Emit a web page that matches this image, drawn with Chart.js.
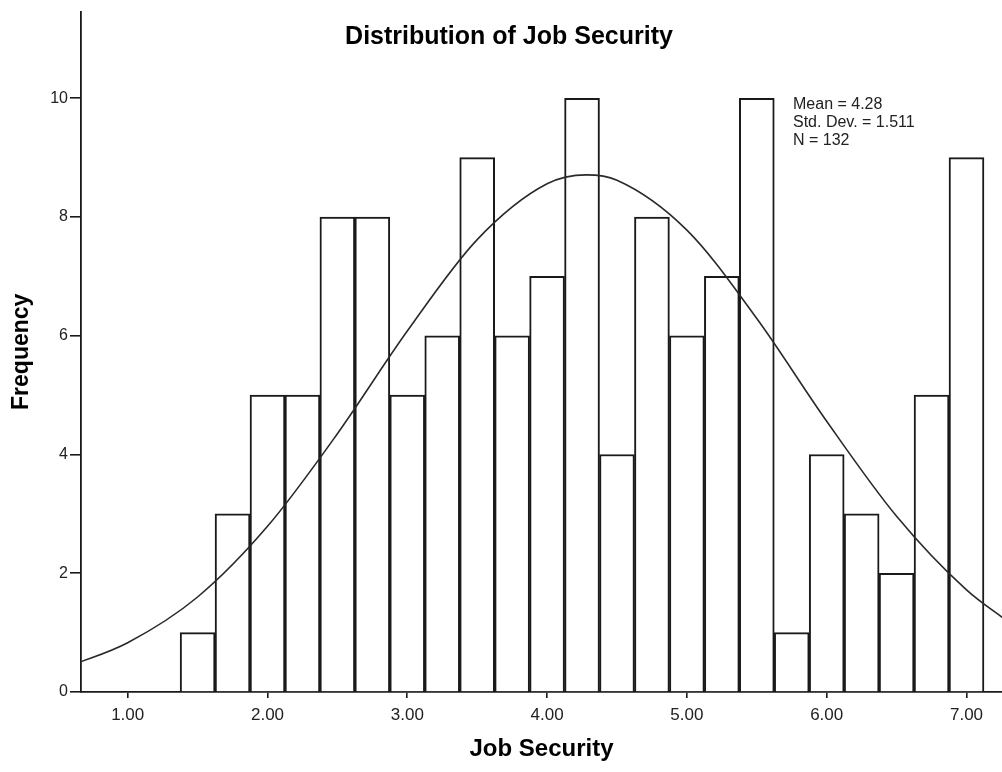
<!DOCTYPE html>
<html>
<head>
<meta charset="utf-8">
<title>Distribution of Job Security</title>
<script src="https://cdn.jsdelivr.net/npm/chart.js@4/dist/chart.umd.min.js"></script>
<style>
    html, body { margin: 0; padding: 0; background: #fff; }
    #wrap { position: relative; width: 1002px; height: 772px; }
</style>
</head>
<body>
<div id="wrap"><canvas id="histChart"></canvas></div>
<script>
// Histogram bins (centres, width 0.25) and counts
const binCentres = [1.50, 1.75, 2.00, 2.25, 2.50, 2.75, 3.00, 3.25, 3.50, 3.75, 4.00, 4.25,
                    4.50, 4.75, 5.00, 5.25, 5.50, 5.75, 6.00, 6.25, 6.50, 6.75, 7.00];
const binCounts = [1, 3, 5, 5, 8, 8, 5, 6, 9, 6, 7, 10, 4, 8, 6, 7, 10, 1, 4, 3, 2, 5, 9];

// Normal curve overlay
const curveX = [0.60, 1.00, 1.50, 2.00, 2.50, 3.00, 3.50, 4.00, 4.28, 4.50, 5.00, 5.50, 6.00, 6.50, 7.00, 7.30];
const curveY = [0.45, 0.83, 1.60, 2.79, 4.35, 6.08, 7.62, 8.56, 8.71, 8.62, 7.78, 6.29, 4.56, 2.96, 1.72, 1.18];

const xTickValues = [1, 2, 3, 4, 5, 6, 7];
const yTickValues = [0, 2, 4, 6, 8, 10];
const statLines = ['Mean = 4.28', 'Std. Dev. = 1.511', 'N = 132'];

const FONT = '"Liberation Sans", Arial, sans-serif';
const INK = '#1a1a1a';

// Title and the stats box are drawn on top of the chart area
const annotations = {
    id: 'annotations',
    afterDraw(chart) {
        const ctx = chart.ctx;
        ctx.save();
        ctx.fillStyle = '#000';
        ctx.font = 'bold 25px ' + FONT;
        ctx.textAlign = 'center';
        ctx.textBaseline = 'middle';
        ctx.fillText('Distribution of Job Security', 509, 37);

        ctx.font = '16px ' + FONT;
        ctx.fillStyle = '#222';
        ctx.textAlign = 'left';
        ctx.textBaseline = 'alphabetic';
        statLines.forEach((line, i) => ctx.fillText(line, 793, 109 + i * 18));
        ctx.restore();
    }
};

const chart = new Chart(document.getElementById('histChart'), {
    type: 'bar',
    data: {
        datasets: [{
            type: 'line',
            data: curveX.map((x, i) => ({ x: x, y: curveY[i] })),
            borderColor: '#2a2a2a',
            borderWidth: 1.6,
            pointRadius: 0,
            fill: false,
            cubicInterpolationMode: 'monotone',
            order: 0
        }, {
            type: 'bar',
            data: binCentres.map((x, i) => ({ x: x, y: binCounts[i] })),
            backgroundColor: '#ffffff',
            borderColor: INK,
            borderWidth: 2,
            borderSkipped: 'bottom',
            barPercentage: 1,
            categoryPercentage: 1,
            order: 1
        }]
    },
    options: {
        responsive: true,
        maintainAspectRatio: false,
        animation: false,
        layout: { padding: { top: 11, right: 0, left: 0, bottom: 0 } },
        plugins: {
            legend: { display: false },
            tooltip: { enabled: false }
        },
        scales: {
            x: {
                type: 'linear',
                offset: false,
                min: 0.666,
                max: 7.254,
                afterBuildTicks: scale => { scale.ticks = xTickValues.map(v => ({ value: v })); },
                afterFit: scale => { scale.height = 80; },
                grid: { display: true, offset: false, drawOnChartArea: false, drawTicks: true, tickLength: 6, color: INK, lineWidth: 1.6 },
                border: { display: true, color: INK, width: 1.8 },
                ticks: {
                    padding: 7,
                    color: '#222',
                    font: { family: FONT, size: 17 },
                    callback: v => Number(v).toFixed(2)
                },
                title: {
                    display: true,
                    text: 'Job Security',
                    color: '#000',
                    font: { family: FONT, size: 24, weight: 'bold' },
                    padding: { top: 0, bottom: 8 }
                }
            },
            y: {
                min: 0,
                max: 11.46,
                afterBuildTicks: scale => { scale.ticks = yTickValues.map(v => ({ value: v })); },
                afterFit: scale => { scale.width = 81; },
                grid: { display: true, drawOnChartArea: false, drawTicks: true, tickLength: 11, color: INK, lineWidth: 1.6 },
                border: { display: true, color: INK, width: 1.8 },
                ticks: {
                    padding: 2,
                    color: '#222',
                    font: { family: FONT, size: 16 }
                },
                title: {
                    display: true,
                    text: 'Frequency',
                    color: '#000',
                    font: { family: FONT, size: 23, weight: 'bold' },
                    padding: { top: 8, bottom: 0 }
                }
            }
        }
    },
    plugins: [annotations]
});
</script>
</body>
</html>
